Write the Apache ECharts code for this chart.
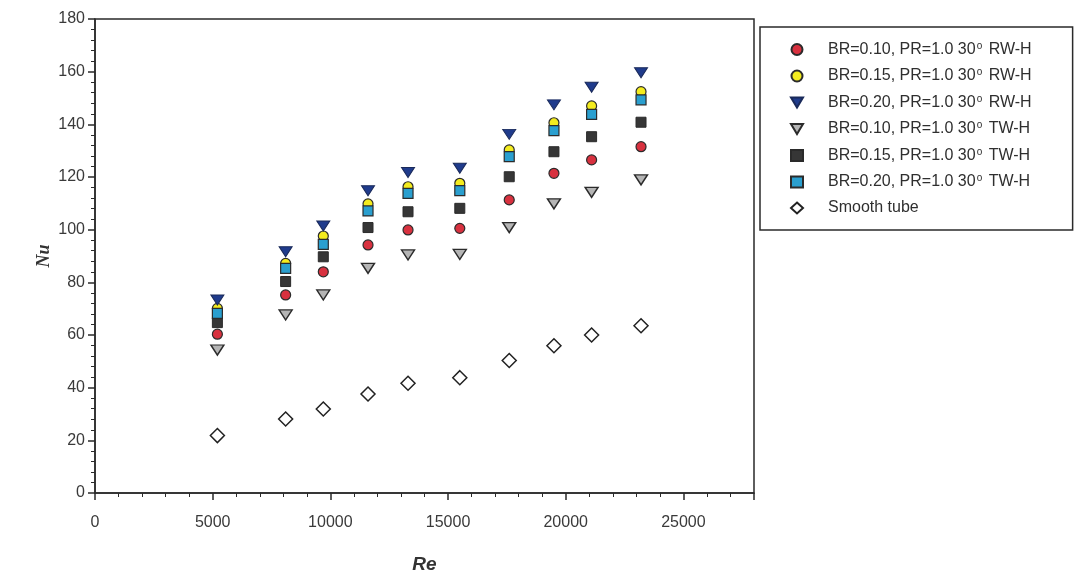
<!DOCTYPE html>
<html>
<head>
<meta charset="utf-8">
<script src="https://cdn.jsdelivr.net/npm/echarts@6/dist/echarts.min.js"></script>
<style>
  html, body { margin: 0; padding: 0; background: #fff; }
  #chart { width: 1075px; height: 575px; }
</style>
</head>
<body>
<div id="chart"></div>
<script>
// Reynolds numbers shared by all test cases
const reValues = [5200, 8100, 9700, 11600, 13300, 15500, 17600, 19500, 21100, 23200];

// Nusselt numbers for each configuration
const nuBR010RW = [60.3, 75.2, 84.0, 94.2, 99.9, 100.5, 111.3, 121.4, 126.5, 131.5];
const nuBR015RW = [70.1, 87.2, 97.6, 109.8, 116.3, 117.6, 130.3, 140.6, 147.0, 152.4];
const nuBR020RW = [73.3, 91.6, 101.4, 114.8, 121.7, 123.3, 136.2, 147.4, 154.1, 159.6];
const nuBR010TW = [54.3, 67.6, 75.2, 85.3, 90.4, 90.6, 100.8, 109.8, 114.2, 118.9];
const nuBR015TW = [64.7, 80.3, 89.7, 100.8, 106.8, 108.1, 120.1, 129.6, 135.3, 140.8];
const nuBR020TW = [68.2, 85.3, 94.4, 107.1, 113.8, 114.8, 127.7, 137.6, 143.8, 149.3];
const nuSmooth  = [21.8, 28.1, 31.9, 37.6, 41.7, 43.8, 50.3, 55.9, 60.0, 63.5];

const seriesNames = [
  'BR=0.10, PR=1.0 30{sup|o} RW-H',
  'BR=0.15, PR=1.0 30{sup|o} RW-H',
  'BR=0.20, PR=1.0 30{sup|o} RW-H',
  'BR=0.10, PR=1.0 30{sup|o} TW-H',
  'BR=0.15, PR=1.0 30{sup|o} TW-H',
  'BR=0.20, PR=1.0 30{sup|o} TW-H',
  'Smooth tube'
];

const xTicks = [0, 5000, 10000, 15000, 20000, 25000];
const yTicks = [0, 20, 40, 60, 80, 100, 120, 140, 160, 180];

const downTriangle = 'path://M0,0 L12,0 L6,10 Z';
const edge = '#2b2b2b';

function pairs(ys) {
  return reValues.map((x, i) => [x, ys[i]]);
}

function scatter(name, ys, symbol, size, fill, border, bw) {
  return {
    name: name,
    type: 'scatter',
    data: pairs(ys),
    symbol: symbol,
    symbolSize: size,
    itemStyle: { color: fill, borderColor: border, borderWidth: bw, opacity: 1 },
    emphasis: { disabled: true }
  };
}

const chart = echarts.init(document.getElementById('chart'), null, { renderer: 'canvas' });

chart.setOption({
  animation: false,
  backgroundColor: '#ffffff',
  grid: {
    left: 95, top: 19, right: 321, bottom: 82,
    containLabel: false,
    outerBoundsMode: 'none',
    show: true, borderColor: '#2a2a2a', borderWidth: 1.5, backgroundColor: 'transparent'
  },
  xAxis: {
    type: 'value',
    min: 0, max: 28000, interval: 5000,
    name: 'Re',
    nameLocation: 'middle',
    nameGap: 62,
    nameMoveOverlap: false,
    nameTextStyle: { fontFamily: 'Liberation Sans', fontSize: 19, fontStyle: 'italic', fontWeight: 'bold', color: '#333' },
    axisLine: { show: true, lineStyle: { color: '#2a2a2a', width: 1.5 } },
    axisTick: { show: true, inside: false, length: 7, lineStyle: { color: '#2a2a2a', width: 1.5 } },
    minorTick: { show: true, splitNumber: 5, length: 4, lineStyle: { color: '#2a2a2a', width: 1 } },
    splitLine: { show: false },
    axisLabel: {
      margin: 22,
      fontFamily: 'Liberation Sans', fontSize: 16, color: '#3a3a3a',
      formatter: v => (xTicks.indexOf(v) >= 0 ? String(v) : '')
    }
  },
  yAxis: {
    type: 'value',
    min: 0, max: 180, interval: 20,
    name: 'Nu',
    nameLocation: 'middle',
    nameGap: 42,
    nameMoveOverlap: false,
    nameTextStyle: { fontFamily: 'Liberation Serif', fontSize: 18, fontStyle: 'italic', fontWeight: 'bold', color: '#333' },
    axisLine: { show: true, lineStyle: { color: '#2a2a2a', width: 1.5 } },
    axisTick: { show: true, inside: false, length: 7, lineStyle: { color: '#2a2a2a', width: 1.5 } },
    minorTick: { show: true, splitNumber: 5, length: 4, lineStyle: { color: '#2a2a2a', width: 1 } },
    splitLine: { show: false },
    axisLabel: {
      margin: 10,
      fontFamily: 'Liberation Sans', fontSize: 16, color: '#3a3a3a',
      formatter: v => (yTicks.indexOf(v) >= 0 ? String(v) : '')
    }
  },
  legend: {
    orient: 'vertical',
    left: 760, top: 27,
    padding: [14, 41, 14, 30],
    itemGap: 10,
    itemWidth: 12, itemHeight: 11,
    borderColor: '#2a2a2a', borderWidth: 1.5,
    backgroundColor: '#fff',
    selectedMode: false,
    textStyle: {
      fontFamily: 'Liberation Sans', fontSize: 16, color: '#2f2f2f',
      padding: [0, 0, 0, 20],
      rich: {
        sup: { fontFamily: 'Liberation Sans', fontSize: 10, color: '#2f2f2f', verticalAlign: 'top', padding: [0, 2, 7, 1] }
      }
    },
    formatter: name => name,
    data: seriesNames
  },
  series: [
    scatter(seriesNames[0], nuBR010RW, 'circle', 10, '#d8313f', edge, 1.2),
    scatter(seriesNames[1], nuBR015RW, 'circle', 10, '#f4ec1e', edge, 1.2),
    scatter(seriesNames[2], nuBR020RW, downTriangle, [13, 10], '#1f3b8c', '#1a2a5a', 1),
    scatter(seriesNames[3], nuBR010TW, downTriangle, [13, 10], '#b5b5b5', edge, 1.4),
    scatter(seriesNames[4], nuBR015TW, 'rect', 10, '#363636', '#2a2a2a', 1),
    scatter(seriesNames[5], nuBR020TW, 'rect', 10, '#2a9fcf', edge, 1.2),
    scatter(seriesNames[6], nuSmooth, 'diamond', [14, 14], '#ffffff', '#222', 1.5)
  ]
});
</script>
</body>
</html>
